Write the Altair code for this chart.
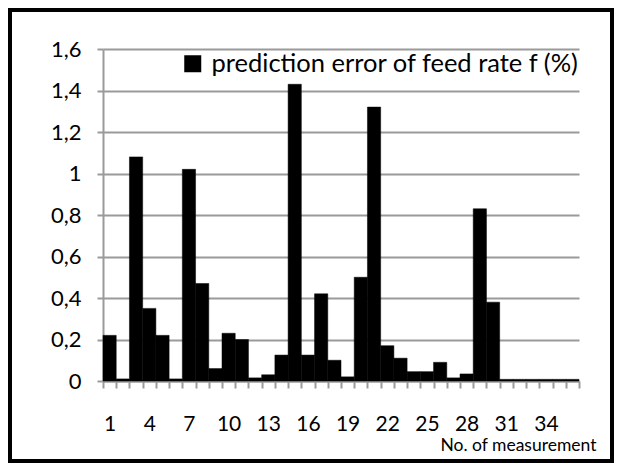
import altair as alt
import pandas as pd

measurement = list(range(1, 37))
error_f = [0.22, 0.01, 1.08, 0.35, 0.22, 0.01, 1.02, 0.47, 0.06, 0.23,
           0.20, 0.015, 0.03, 0.125, 1.43, 0.125, 0.42, 0.10, 0.02, 0.50,
           1.32, 0.17, 0.11, 0.045, 0.045, 0.09, 0.015, 0.034, 0.83, 0.38,
           0.008, 0.008, 0.008, 0.008, 0.008, 0.008]
series_name = "prediction error of feed rate f (%)"
y_ticks = [0, 0.2, 0.4, 0.6, 0.8, 1.0, 1.2, 1.4, 1.6]

df = pd.DataFrame({"m": measurement, "v": error_f, "s": [series_name] * len(measurement)})

FONT = "Lato"
GRAY = "#9a9a9a"

bars = alt.Chart(df).mark_bar(stroke="black", strokeWidth=0.5).encode(
    x=alt.X("m:O", scale=alt.Scale(paddingInner=0, paddingOuter=0),
            axis=alt.Axis(title="No. of measurement", labelAngle=0,
                          labelExpr="datum.value % 3 == 1 ? datum.label : ''",
                          tickBand="extent", tickSize=7, tickWidth=2, tickColor=GRAY,
                          domainColor=GRAY, domainWidth=2,
                          labelFontSize=21, labelFont=FONT, labelColor="black", labelPadding=25,
                          titleFontSize=17.5, titleFont=FONT, titleFontWeight="normal", titleColor="black",
                          titleAnchor="end", titleAlign="right", titleX=493, titleY=69,
                          titleBaseline="alphabetic")),
    y=alt.Y("v:Q", scale=alt.Scale(domain=[0, 1.6], nice=False),
            axis=alt.Axis(title=None, values=y_ticks,
                          labelExpr="replace(format(datum.value, '~g'), '.', ',')",
                          grid=True, gridColor=GRAY, gridWidth=2,
                          tickSize=6, tickWidth=2, tickColor=GRAY,
                          domainColor=GRAY, domainWidth=2,
                          labelFontSize=22, labelFont=FONT, labelColor="black", labelPadding=16)),
    color=alt.Color("s:N", scale=alt.Scale(range=["black"]),
                    legend=alt.Legend(orient="none", legendX=77, legendY=2, title=None,
                                      symbolType="square", symbolSize=289, symbolStrokeWidth=0,
                                      labelFontSize=25.5, labelFont=FONT, labelColor="black",
                                      labelOffset=6, labelLimit=0, padding=0)),
)

frame = alt.Chart(pd.DataFrame({"a": [0]})).mark_rect(
    filled=False, stroke="black", strokeWidth=4
).encode(
    x=alt.value(-93), x2=alt.value(509), y=alt.value(-39), y2=alt.value(412)
)

chart = alt.layer(bars, frame).properties(
    width=476, height=332,
    padding={"left": 95, "top": 41, "right": 35, "bottom": 82},
    autosize=alt.AutoSizeParams(type="none"),
).configure_view(stroke=None)

chart.save("out.html", embed_options={"renderer": "svg", "actions": False})
